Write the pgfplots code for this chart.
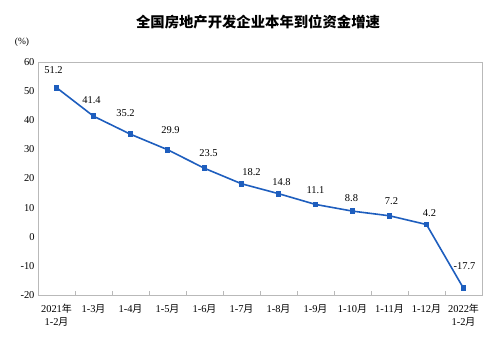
\documentclass[border=0pt]{standalone}
\usepackage{fontspec}
\setmainfont{Liberation Serif}
\newfontfamily\cjk{Noto Sans CJK SC}
\usepackage{pgfplots}
\usepackage{pgfplotstable}
\pgfplotsset{compat=1.18}
\definecolor{lineblue}{RGB}{30,94,190}
\definecolor{axgray}{RGB}{185,185,185}
\newcommand{\yue}{{\cjk\fontsize{10}{11}\selectfont 月}}
\newcommand{\nian}{{\cjk\fontsize{10}{11}\selectfont 年}}
\pgfplotstableread{
x y dx dy
0 51.2 -3 18
1 41.4 -2 16
2 35.2 -5 21
3 29.9 3 20
4 23.5 4 15
5 18.2 10 12
6 14.8 3 12
7 11.1 0 14
8 8.8 -1 13
9 7.2 2 15
10 4.2 3 11
11 -17.7 1 22
}\datatable
\begin{document}
\begin{tikzpicture}
\useasboundingbox (-38bp,-56bp) rectangle (462bp,295bp);
\begin{axis}[
  scale only axis, width=444bp, height=233bp,
  at={(0,0)}, anchor=south west,
  xmin=-0.5, xmax=11.5, ymin=-20, ymax=60,
  ytick={-20,-10,...,60},
  xtick={0,...,11},
  xticklabels={{2021\nian\\1-2\yue},{1-3\yue},{1-4\yue},{1-5\yue},{1-6\yue},{1-7\yue},{1-8\yue},{1-9\yue},{1-10\yue},{1-11\yue},{1-12\yue},{2022\nian\\1-2\yue}},
  xticklabel style={align=center, font=\fontsize{10.5}{13}\selectfont, yshift=-6bp},
  yticklabel style={font=\fontsize{10.5}{12}\selectfont},
  minor xtick={-0.5,0.5,...,11.5},
  major tick length=0pt, minor tick length=4bp, tick align=inside,
  xtick pos=lower, ytick pos=left,
  axis line style={axgray, line width=0.8bp},
  minor tick style={axgray, line width=0.8bp},
  /pgf/number format/assume math mode=true,
  clip=false,
]
\addplot[lineblue, line width=1.6bp, mark=square*, mark size=2.1bp, mark options={solid, fill=lineblue},
  nodes near coords={\pgfmathprintnumber[fixed,fixed zerofill,precision=1,assume math mode=true]{\pgfplotspointmeta}},
  point meta=explicit,
  visualization depends on={\thisrow{dx} \as \ldx},
  visualization depends on={\thisrow{dy} \as \ldy},
  every node near coord/.append style={anchor=center, xshift=\ldx bp, yshift=\ldy bp, text=black, font=\fontsize{10.5}{12}\selectfont, inner sep=0pt}
] table[x=x, y=y, meta=y] {\datatable};
\end{axis}
\node[font=\cjk\bfseries\fontsize{14.4}{16}\selectfont] at (220bp,273bp) {全国房地产开发企业本年到位资金增速};
\node[font=\fontsize{9.5}{11}\selectfont] at (-16bp,253bp) {(\%)};
\end{tikzpicture}
\end{document}
